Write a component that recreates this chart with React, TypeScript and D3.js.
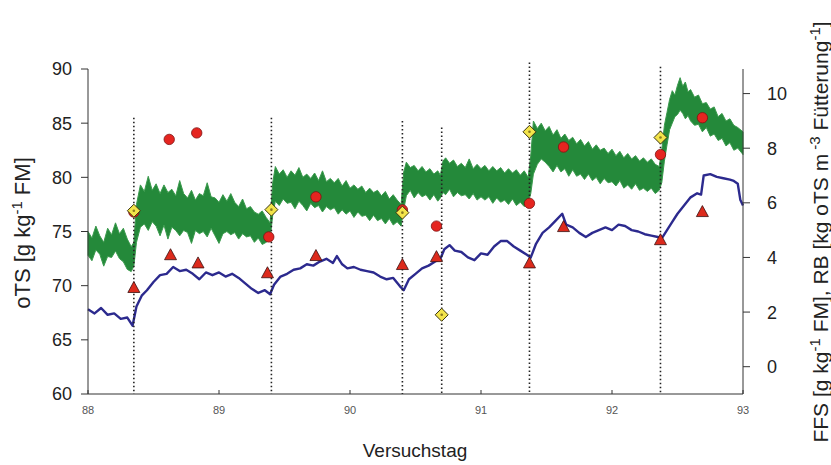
import React from "react";
import * as d3 from "d3";

// ---- data ----
const greenDay = [88.00,88.03,88.06,88.09,88.12,88.15,88.18,88.21,88.24,88.27,88.30,88.33,88.35,88.37,88.40,88.43,88.46,88.49,88.52,88.55,88.58,88.61,88.64,88.67,88.70,88.73,88.76,88.79,88.82,88.85,88.88,88.91,88.94,88.97,89.00,89.03,89.06,89.09,89.12,89.15,89.18,89.21,89.24,89.27,89.30,89.33,89.36,89.39,89.41,89.43,89.46,89.49,89.52,89.55,89.58,89.61,89.64,89.67,89.70,89.73,89.76,89.79,89.82,89.85,89.88,89.91,89.94,89.97,90.00,90.03,90.06,90.09,90.12,90.15,90.18,90.21,90.24,90.27,90.30,90.33,90.36,90.39,90.41,90.43,90.46,90.49,90.52,90.55,90.58,90.61,90.64,90.67,90.69,90.71,90.73,90.76,90.79,90.82,90.85,90.88,90.91,90.94,90.97,91.00,91.03,91.06,91.09,91.12,91.15,91.18,91.21,91.24,91.27,91.30,91.33,91.36,91.38,91.40,91.43,91.46,91.49,91.52,91.55,91.58,91.61,91.64,91.67,91.70,91.73,91.76,91.79,91.82,91.85,91.88,91.91,91.94,91.97,92.00,92.03,92.06,92.09,92.12,92.15,92.18,92.21,92.24,92.27,92.30,92.33,92.36,92.38,92.40,92.42,92.44,92.46,92.48,92.50,92.52,92.54,92.56,92.58,92.60,92.63,92.66,92.69,92.72,92.75,92.78,92.81,92.84,92.87,92.90,92.93,92.96,93.00];
const greenLo = [72.8,72.3,73.3,72.9,71.8,72.7,72.6,73.2,72.5,72.2,71.5,71.3,71.8,74.0,75.4,75.7,75.1,75.9,75.5,74.6,75.6,74.3,75.4,75.1,74.6,75.1,74.9,73.9,75.1,74.8,75.0,74.5,75.3,74.6,73.9,74.8,75.0,74.7,74.9,74.3,74.8,74.5,74.6,74.0,74.4,73.8,74.0,74.3,76.5,77.8,77.4,78.0,77.6,77.7,77.1,77.8,77.4,76.9,77.6,77.2,77.4,76.8,77.3,77.0,77.2,76.6,77.0,76.6,76.9,76.3,76.8,76.4,76.5,76.0,76.5,76.0,76.2,75.7,76.2,75.6,75.9,75.5,77.0,78.3,78.8,78.1,78.6,78.2,78.4,77.9,78.4,77.8,78.1,78.6,78.4,78.9,78.2,78.6,78.3,78.4,78.0,78.5,77.9,78.2,77.9,78.2,77.6,78.1,77.7,77.9,77.5,78.0,77.4,77.7,77.3,77.6,78.5,80.3,81.2,81.7,81.4,81.0,80.5,81.1,80.5,80.8,80.1,80.7,80.1,80.3,79.8,80.3,79.7,80.0,79.4,79.9,79.5,79.6,79.2,79.7,79.0,79.3,78.9,79.4,78.8,79.0,78.7,79.0,78.5,78.8,79.5,81.5,83.0,84.4,85.0,85.6,85.8,86.2,85.9,85.4,85.7,85.2,84.8,84.9,84.2,84.6,83.8,84.0,83.4,83.6,82.9,83.2,82.5,82.7,82.1];
const greenHi = [75.0,74.4,75.5,74.6,74.0,75.3,74.7,75.8,74.8,75.3,74.3,73.6,74.0,77.5,79.3,78.7,80.1,78.8,79.4,78.5,79.3,78.6,78.9,78.3,79.7,78.5,78.1,78.8,77.9,78.5,78.3,79.5,78.2,78.1,77.7,78.4,77.8,78.5,77.7,77.3,78.0,77.1,77.3,76.8,76.6,76.9,76.3,75.8,79.5,81.0,80.3,80.7,80.0,80.6,80.2,80.9,80.0,80.3,79.9,80.4,79.7,80.6,79.6,79.9,79.5,79.9,79.2,79.7,79.0,79.3,78.9,79.2,78.6,79.0,78.6,78.8,78.3,78.7,78.0,78.4,77.9,77.5,80.5,81.4,80.9,81.1,80.6,81.0,80.5,80.8,80.3,80.6,80.2,81.5,81.8,81.3,81.6,81.0,81.3,80.9,81.7,80.8,81.2,80.8,81.1,80.6,81.0,80.6,80.9,80.4,80.8,80.4,80.7,80.2,80.6,80.0,82.0,85.2,84.5,85.0,84.3,84.7,83.9,84.4,83.6,84.0,83.4,83.7,83.1,83.5,82.9,83.3,82.6,83.0,82.5,82.7,82.2,82.6,82.0,82.4,81.8,82.2,81.7,82.0,81.5,81.8,81.4,81.7,81.2,81.0,82.5,84.8,86.0,87.2,88.0,87.6,88.5,89.2,88.4,88.8,87.9,88.1,87.4,87.6,86.8,86.9,86.3,86.5,85.6,85.9,85.2,85.4,84.8,84.6,84.2];

const blueDay = [88.00,88.05,88.10,88.15,88.20,88.25,88.30,88.34,88.37,88.41,88.45,88.50,88.55,88.60,88.65,88.70,88.75,88.80,88.85,88.90,88.95,89.00,89.05,89.10,89.15,89.20,89.25,89.30,89.35,89.39,89.42,89.47,89.52,89.57,89.62,89.67,89.72,89.77,89.82,89.87,89.90,89.94,89.98,90.03,90.08,90.13,90.18,90.23,90.28,90.33,90.38,90.41,90.45,90.50,90.55,90.60,90.65,90.69,90.72,90.76,90.80,90.85,90.90,90.95,91.00,91.05,91.10,91.15,91.20,91.25,91.30,91.35,91.38,91.42,91.47,91.52,91.57,91.62,91.65,91.70,91.75,91.80,91.85,91.90,91.95,92.00,92.05,92.10,92.15,92.20,92.25,92.30,92.35,92.38,92.42,92.46,92.50,92.55,92.60,92.65,92.68,92.70,92.75,92.80,92.85,92.90,92.93,92.96,92.98,93.00];
const blueVal = [2.1,1.95,2.15,1.9,1.95,1.75,1.8,1.5,2.2,2.6,2.8,3.1,3.35,3.4,3.65,3.5,3.55,3.4,3.2,3.45,3.35,3.45,3.3,3.4,3.25,3.05,2.85,2.7,2.8,2.65,3.0,3.3,3.4,3.55,3.6,3.75,3.7,3.85,3.95,3.8,4.05,3.75,3.6,3.65,3.55,3.5,3.45,3.3,3.2,3.25,2.95,2.8,3.2,3.4,3.6,3.7,3.85,3.95,4.3,4.45,4.25,4.2,4.0,3.9,4.15,4.1,4.4,4.6,4.6,4.4,4.25,4.1,4.0,4.5,4.9,5.1,5.35,5.6,5.2,5.1,4.9,4.75,4.9,5.0,5.1,5.0,5.2,5.15,5.0,4.95,4.85,4.8,4.75,4.7,5.0,5.3,5.6,5.9,6.2,6.35,6.3,7.0,7.05,6.95,6.9,6.85,6.8,6.7,6.1,5.9];

const circleDay = [88.35,88.62,88.83,89.38,89.74,90.40,90.66,91.37,91.63,92.37,92.69];
const circleVal = [76.8,83.5,84.1,74.5,78.2,77.0,75.5,77.6,82.8,82.1,85.5];

const triDay = [88.35,88.63,88.84,89.37,89.74,90.40,90.66,91.37,91.63,92.37,92.69];
const triVal = [2.9,4.1,3.8,3.44,4.07,3.74,4.03,3.8,5.13,4.65,5.68];

const diaDay = [88.35,89.40,90.40,90.70,91.37,92.37];
const diaVal = [5.71,5.75,5.64,1.9,8.6,8.39];

const feedDay = [88.35,89.40,90.40,90.70,91.37,92.37];
const feedTop = [85.5,85.5,85.2,84.6,90.6,90.2];

const xTicks = [88,89,90,91,92,93];
const yLeftTicks = [60,65,70,75,80,85,90];
const yRightTicks = [0,2,4,6,8,10];

const FONT = "'Liberation Sans', Arial, sans-serif";

export default function App() {
  const x = d3.scaleLinear().domain([88, 93]).range([88, 743]);
  const yL = d3.scaleLinear().domain([60, 90]).range([394, 69]);
  const yR = d3.scaleLinear().domain([-1, 10.9]).range([394, 69]);

  const greenIdx = d3.range(greenDay.length);
  const area = d3
    .area<number>()
    .x((i) => x(greenDay[i]))
    .y0((i) => yL(greenLo[i]))
    .y1((i) => yL(greenHi[i]));
  const blueLine = d3
    .line<number>()
    .x((i) => x(blueDay[i]))
    .y((i) => yR(blueVal[i]));

  const green = "#24893a";
  const blue = "#2c2a8e";

  return (
    <svg width={831} height={465} style={{ position: "absolute", left: 0, top: 0, background: "#fff" }}>
      <rect width={831} height={465} fill="#fff" />
      <path d={area(greenIdx) || ""} fill={green} stroke="#3a9a4c" strokeWidth={1} strokeLinejoin="bevel" />
      <path d={blueLine(d3.range(blueDay.length)) || ""} fill="none" stroke={blue} strokeWidth={2.4} strokeLinejoin="round" />

      {feedDay.map((d, i) => (
        <line key={"f" + i} x1={x(d)} x2={x(d)} y1={yL(feedTop[i])} y2={394}
          stroke="#222" strokeWidth={1.6} strokeDasharray="1.4,2.6" />
      ))}

      <line x1={88} x2={88} y1={69} y2={394} stroke="#333" strokeWidth={1} />
      <line x1={743} x2={743} y1={69} y2={394} stroke="#333" strokeWidth={1} />
      <line x1={88} x2={743} y1={394} y2={394} stroke="#333" strokeWidth={1} />

      {yLeftTicks.map((t) => (
        <g key={"yl" + t}>
          <line x1={81} x2={88} y1={yL(t)} y2={yL(t)} stroke="#333" />
          <text x={72} y={yL(t)} dy="0.36em" textAnchor="end" fontFamily={FONT} fontSize={18} fill="#222">{t}</text>
        </g>
      ))}
      {yRightTicks.map((t) => (
        <g key={"yr" + t}>
          <line x1={743} x2={750} y1={yR(t)} y2={yR(t)} stroke="#333" />
          <text x={767} y={yR(t)} dy="0.36em" textAnchor="start" fontFamily={FONT} fontSize={18} fill="#222">{t}</text>
        </g>
      ))}
      {xTicks.map((t) => (
        <g key={"x" + t}>
          <line x1={x(t)} x2={x(t)} y1={394} y2={390} stroke="#333" />
          <text x={x(t)} y={414} textAnchor="middle" fontFamily={FONT} fontSize={11} fill="#555">{t}</text>
        </g>
      ))}

      {circleDay.map((d, i) => (
        <circle key={"c" + i} cx={x(d)} cy={yL(circleVal[i])} r={5.2} fill="#e52520" stroke="#7d1212" strokeWidth={0.8} />
      ))}
      {triDay.map((d, i) => {
        const cx = x(d), cy = yR(triVal[i]);
        return (
          <path key={"t" + i} d={`M${cx},${cy - 6} L${cx + 6},${cy + 5} L${cx - 6},${cy + 5} Z`}
            fill="#dc2a1c" stroke="#3a1010" strokeWidth={0.8} />
        );
      })}
      {diaDay.map((d, i) => {
        const cx = x(d), cy = yR(diaVal[i]);
        return (
          <g key={"d" + i}>
            <path d={`M${cx},${cy - 6.5} L${cx + 6.5},${cy} L${cx},${cy + 6.5} L${cx - 6.5},${cy} Z`}
              fill="#f3e44a" stroke="#3a3410" strokeWidth={1} />
            <circle cx={cx} cy={cy} r={1.3} fill="#8a7a20" />
          </g>
        );
      })}

      <text x={415} y={457} textAnchor="middle" fontFamily={FONT} fontSize={19} fill="#222">Versuchstag</text>
      <text transform="translate(30,233) rotate(-90)" textAnchor="middle" fontFamily={FONT} fontSize={22} fill="#222">
        oTS [g kg<tspan dy="-8" fontSize={15}>-1</tspan><tspan dy="8"> FM]</tspan>
      </text>
      <text transform="translate(828,232) rotate(-90)" textAnchor="middle" fontFamily={FONT} fontSize={21} fill="#222">
        FFS [g kg<tspan dy="-8" fontSize={15}>-1</tspan><tspan dy="8"> FM], RB [kg oTS m</tspan><tspan dy="-8" fontSize={15}> -3</tspan><tspan dy="8"> Fütterung</tspan><tspan dy="-8" fontSize={15}>-1</tspan><tspan dy="8">]</tspan>
      </text>
    </svg>
  );
}
